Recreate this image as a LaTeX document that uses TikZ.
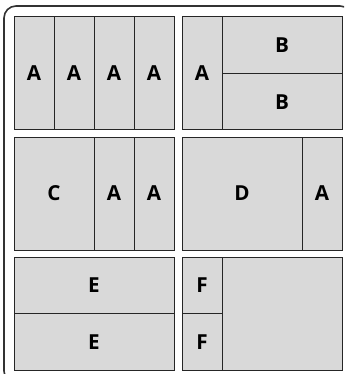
\documentclass[tikz,border=0pt]{standalone}
\usepackage{fontspec}
\setsansfont{Open Sans}
\usepackage{tikz}

\begin{document}
\begin{tikzpicture}[
  x=0.75pt,y=-0.75pt,
  cell/.style 2 args={draw=black!85,line width=0.75pt,fill=gray!30,
    minimum width=#1,minimum height=#2,inner sep=0pt,
    font=\sffamily\bfseries\fontsize{15.5}{15.5}\selectfont},
  frame/.style={draw=black!80,line width=1.2pt,rounded corners=9pt}
]
\useasboundingbox (0,0) rectangle (344,374);
\begin{scope}
\clip (0,0) rectangle (344,374);
\draw[frame] (4,6) rectangle (352,383);
\end{scope}
% top row
\node[cell={30pt}{84.75pt}] (a1) at (34,73.5) {A};
\node[cell={30pt}{84.75pt}] (a2) at (74,73.5) {A};
\node[cell={30pt}{84.75pt}] (a3) at (114,73.5) {A};
\node[cell={30pt}{84.75pt}] (a4) at (154,73.5) {A};
\node[cell={30pt}{84.75pt}] (a5) at (202,73.5) {A};
\node[cell={90pt}{42.375pt}] (b1) at (282,45.25) {B};
\node[cell={90pt}{42.375pt}] (b2) at (282,101.75) {B};
% middle row
\node[cell={60pt}{84.75pt}] (c) at (54,193.5) {C};
\node[cell={30pt}{84.75pt}] (a6) at (114,193.5) {A};
\node[cell={30pt}{84.75pt}] (a7) at (154,193.5) {A};
\node[cell={90pt}{84.75pt}] (d) at (242,193.5) {D};
\node[cell={30pt}{84.75pt}] (a8) at (322,193.5) {A};
% bottom row
\node[cell={120pt}{42.375pt}] (e1) at (94,285.25) {E};
\node[cell={120pt}{42.375pt}] (e2) at (94,341.75) {E};
\node[cell={30pt}{42.375pt}] (f1) at (202,285.25) {F};
\node[cell={30pt}{42.375pt}] (f2) at (202,341.75) {F};
\node[cell={90pt}{84.75pt}] (g) at (282,313.5) {};
\end{tikzpicture}
\end{document}
